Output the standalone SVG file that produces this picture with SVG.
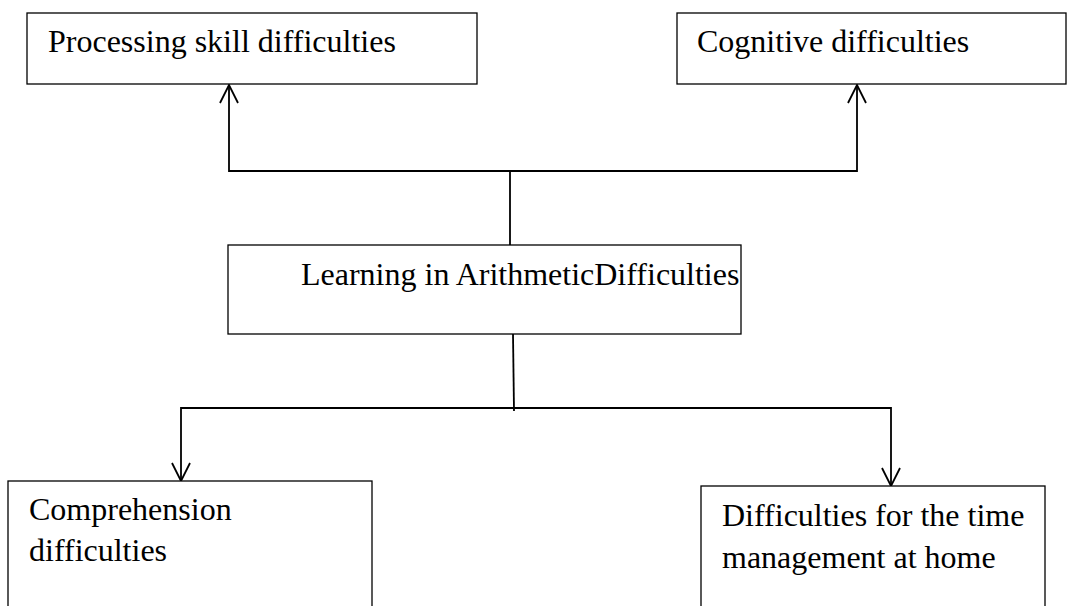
<svg xmlns="http://www.w3.org/2000/svg" width="1071" height="606" viewBox="0 0 1071 606">
<style>
.box{fill:#fff;stroke:#000;stroke-width:1.3}
.t{font-family:"Liberation Serif","Times New Roman",serif;font-size:32px;fill:#000}
.c{fill:none;stroke:#000;stroke-width:1.8}
</style>
<rect width="1071" height="606" fill="#fff"/>
<g id="connectors">
<polyline class="c" points="229,85 229,171 857,171 857,85"/>
<line class="c" x1="510" y1="171" x2="510" y2="245"/>
<polyline class="c" points="220,103 229,85 238,103"/>
<polyline class="c" points="848,103 857,85 866,103"/>
<line class="c" x1="513" y1="334" x2="514" y2="411"/>
<polyline class="c" points="181,481 181,408 891,408 891,486"/>
<polyline class="c" points="172,463 181,481 190,463"/>
<polyline class="c" points="882,468 891,486 900,468"/>
</g>
<g id="n1"><rect class="box" x="27" y="13" width="450" height="71"/><text class="t" x="48" y="52">Processing skill difficulties</text></g>
<g id="n2"><rect class="box" x="677" y="13" width="389" height="71"/><text class="t" x="697" y="52">Cognitive difficulties</text></g>
<g id="n3"><rect class="box" x="228" y="245" width="513" height="89"/><text class="t" x="301" y="285">Learning in ArithmeticDifficulties</text></g>
<g id="n4"><rect class="box" x="8" y="481" width="364" height="130"/><text class="t" x="29" y="520">Comprehension</text><text class="t" x="29" y="561">difficulties</text></g>
<g id="n5"><rect class="box" x="701" y="486" width="344" height="125"/><text class="t" x="722" y="526">Difficulties for the time</text><text class="t" x="722" y="568">management at home</text></g>
</svg>
